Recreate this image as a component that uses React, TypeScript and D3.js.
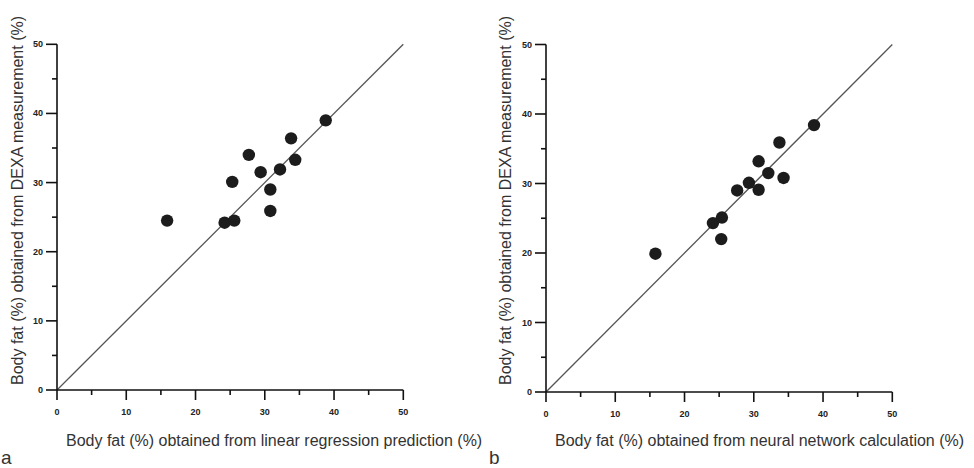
import React from "react";
import * as d3 from "d3";

const linX = [15.9, 24.2, 25.6, 25.3, 27.7, 29.4, 30.8, 30.8, 32.2, 33.8, 34.4, 38.8];
const linY = [24.5, 24.2, 24.5, 30.1, 34.0, 31.5, 29.0, 25.9, 31.9, 36.4, 33.3, 39.0];
const nnX = [15.8, 24.1, 25.4, 25.3, 27.6, 29.3, 30.7, 30.7, 32.1, 34.3, 33.7, 38.7];
const nnY = [19.9, 24.3, 25.1, 22.0, 29.0, 30.1, 29.1, 33.2, 31.5, 30.8, 35.9, 38.4];
const majorTicks = [0, 10, 20, 30, 40, 50];
const minorTicks = [5, 15, 25, 35, 45];
const yTitle = "Body fat (%) obtained from DEXA measurement (%)";
const xTitleA = "Body fat (%) obtained from linear regression prediction (%)";
const xTitleB = "Body fat (%) obtained from neural network calculation (%)";

type PanelProps = {
  x0: number; x1: number; y0: number; y1: number;
  xs: number[]; ys: number[]; xTitle: string; letter: string;
  yTitleX: number; letterX: number;
};

function Panel({ x0, x1, y0, y1, xs, ys, xTitle, letter, yTitleX, letterX }: PanelProps) {
  const x = d3.scaleLinear().domain([0, 50]).range([x0, x1]);
  const y = d3.scaleLinear().domain([0, 50]).range([y0, y1]);
  const ax = "#111";
  return (
    <g>
      <line x1={x(0)} y1={y(0)} x2={x(50)} y2={y(50)} stroke="#555" strokeWidth={1.3} />
      <line x1={x(0)} y1={y(0)} x2={x(50)} y2={y(0)} stroke={ax} strokeWidth={1.6} />
      <line x1={x(0)} y1={y(0)} x2={x(0)} y2={y(50)} stroke={ax} strokeWidth={1.6} />
      {majorTicks.map((t) => (
        <g key={"mx" + t}>
          <line x1={x(t)} x2={x(t)} y1={y(0)} y2={y(0) + 10} stroke={ax} strokeWidth={1.6} />
          <text x={x(t)} y={y(0) + 25} textAnchor="middle" fontSize={9} fontWeight="bold" fill="#222">{t}</text>
          <line x1={x(0) - 11} x2={x(0)} y1={y(t)} y2={y(t)} stroke={ax} strokeWidth={1.6} />
          <text x={x(0) - 14} y={y(t) + 3} textAnchor="end" fontSize={9} fontWeight="bold" fill="#222">{t}</text>
        </g>
      ))}
      {minorTicks.map((t) => (
        <g key={"mn" + t}>
          <line x1={x(t)} x2={x(t)} y1={y(0)} y2={y(0) + 5} stroke={ax} strokeWidth={1.6} />
          <line x1={x(0) - 5} x2={x(0)} y1={y(t)} y2={y(t)} stroke={ax} strokeWidth={1.6} />
        </g>
      ))}
      {xs.map((v, i) => (
        <circle key={i} cx={x(v)} cy={y(ys[i])} r={6.2} fill="#1c1c1c" />
      ))}
      <text x={x(0) + 9} y={446} fontSize={16} fill="#333">{xTitle}</text>
      <text transform={`translate(${yTitleX},385) rotate(-90)`} fontSize={16} fill="#333">{yTitle}</text>
      <text x={letterX} y={464} fontSize={19} fill="#333">{letter}</text>
    </g>
  );
}

export default function App() {
  return (
    <svg width={974} height={468} style={{ position: "absolute", left: 0, top: 0, background: "#fff", fontFamily: "Arial, 'Liberation Sans', sans-serif" }}>
      <Panel x0={57} x1={403.3} y0={390} y1={44.3} xs={linX} ys={linY} xTitle={xTitleA} letter="a" yTitleX={23} letterX={1} />
      <Panel x0={546} x1={892.3} y0={392} y1={44.5} xs={nnX} ys={nnY} xTitle={xTitleB} letter="b" yTitleX={511} letterX={489} />
    </svg>
  );
}
